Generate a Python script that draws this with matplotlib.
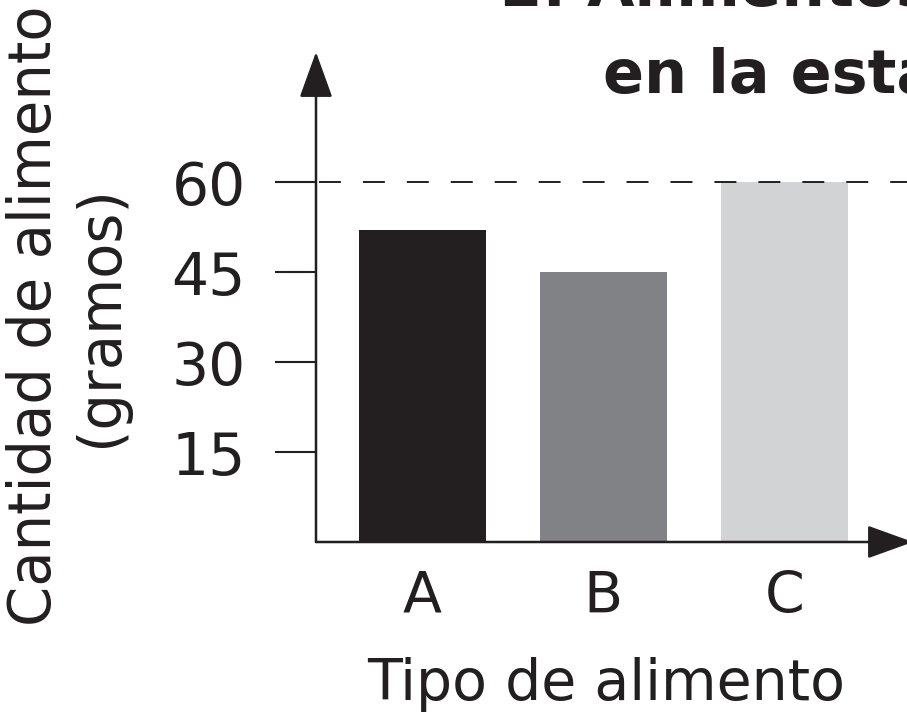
import matplotlib.pyplot as plt

# data
categories = ["A", "B", "C"]
amounts = [52, 45, 60]
bar_colors = ["#231f20", "#808285", "#d1d3d4"]
yticks = [15, 30, 45, 60]
limit_line = 60

ink = "#231f20"
plt.rcParams["font.family"] = "DejaVu Sans"

W, H = 907, 715
fig = plt.figure(figsize=(W / 100, H / 100), dpi=100)

# axes placed in pixel terms so the crop matches the reference
left_px, right_px, bottom_px, top_px = 316, 913, 542, 52
ax = fig.add_axes([left_px / W, (H - bottom_px) / H,
                   (right_px - left_px) / W, (bottom_px - top_px) / H])

pos = list(range(len(categories)))
ax.bar(pos, amounts, width=0.70, color=bar_colors, zorder=2)

ax.set_xlim(-0.588, -0.588 + (right_px - left_px) / 181)
ax.set_ylim(0, (bottom_px - top_px) / 6)

# dashed reference line at 60
ax.axhline(limit_line, xmin=-41 / (right_px - left_px), xmax=1, color=ink,
           lw=1.4, linestyle=(0, (11.3, 11.3)), clip_on=False, zorder=3)

for s in ax.spines.values():
    s.set_visible(False)

# axes with arrow heads
arrow = dict(arrowstyle="-|>,head_length=1.44,head_width=0.52",
             mutation_scale=20, color=ink, lw=1.8, shrinkA=0, shrinkB=0)
ax.annotate("", xy=(0, 1), xytext=(0, 0), xycoords="axes fraction",
            arrowprops=arrow, annotation_clip=False)
ax.annotate("", xy=(1, 0), xytext=(0, 0), xycoords="axes fraction",
            arrowprops=arrow, annotation_clip=False)

ax.set_yticks(yticks)
ax.set_yticklabels([str(t) for t in yticks])
ax.tick_params(axis="y", length=29.5, width=1.5, color=ink, labelcolor=ink,
               labelsize=42, pad=21)
ax.set_xticks(pos)
ax.set_xticklabels(categories)
ax.tick_params(axis="x", length=0, labelcolor=ink, labelsize=41, pad=20)

fig.text(606 / W, (H - 700) / H, "Tipo de alimento", ha="center",
         va="baseline", fontsize=41, color=ink)
fig.text(68 / W, (H - 316) / H, "Cantidad de alimento\n(gramos)",
         rotation=90, ha="center", va="center", multialignment="center",
         fontsize=41.5, color=ink, linespacing=1.2)

# title, cut off by the crop
fig.text(500 / W, (H - 6) / H, "2. Alimentos consumidos", ha="left",
         va="baseline", fontsize=44, fontweight="bold", color=ink)
fig.text(603 / W, (H - 93) / H, "en la estación", ha="left",
         va="baseline", fontsize=43.5, fontweight="bold", color=ink)

fig.savefig("out.png", dpi=100)
